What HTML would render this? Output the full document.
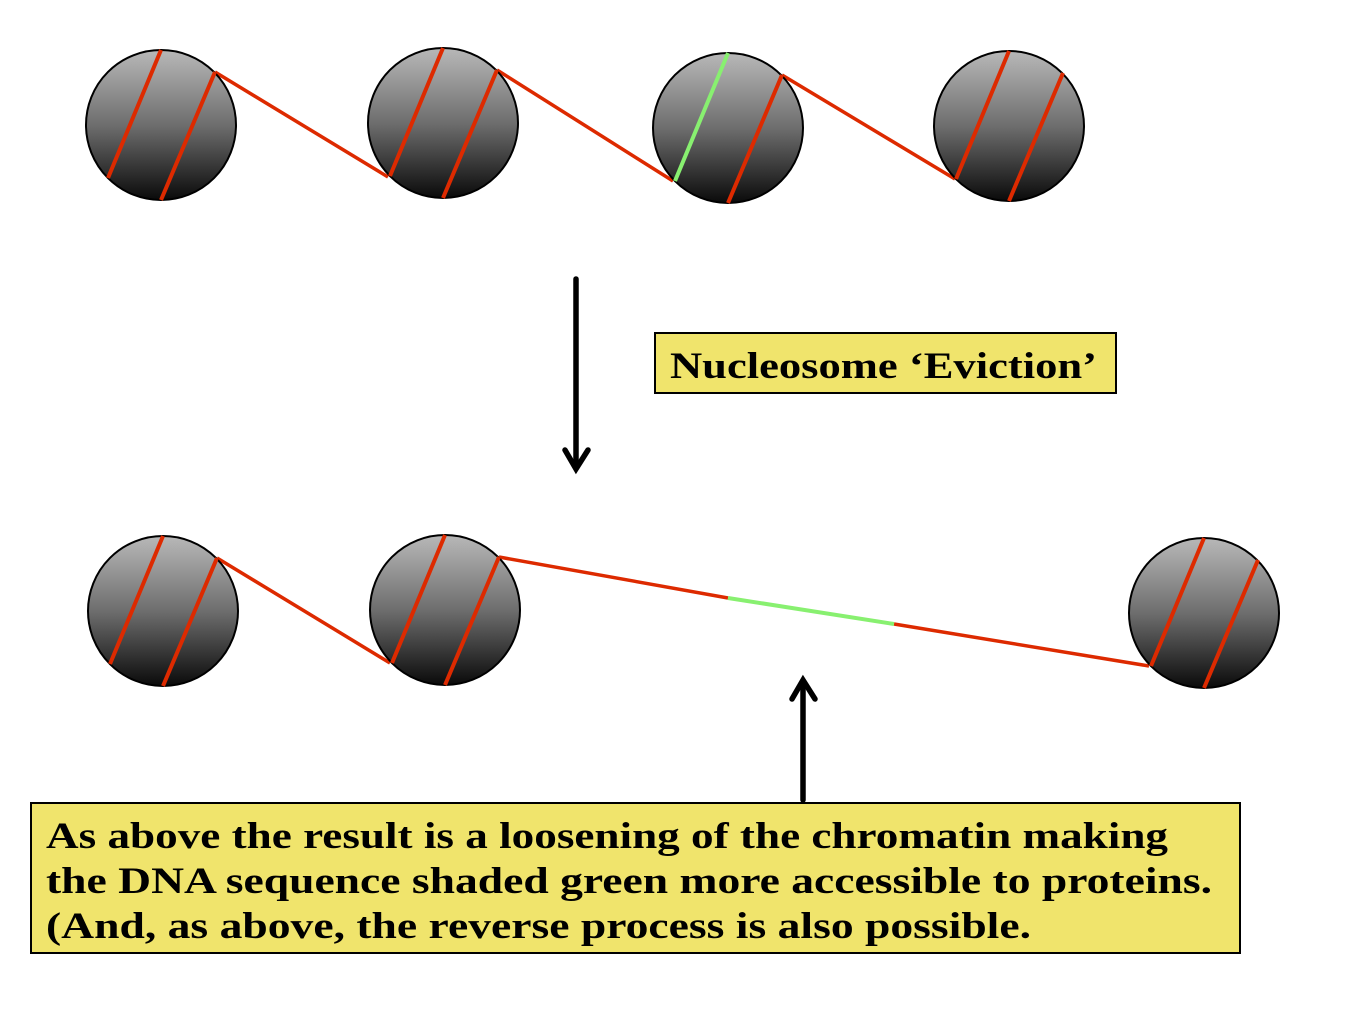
<!DOCTYPE html>
<html><head><meta charset="utf-8"><style>html,body{margin:0;padding:0;background:#fff;}svg{display:block}</style></head>
<body>
<svg width="1354" height="1027" viewBox="0 0 1354 1027" xmlns="http://www.w3.org/2000/svg">
<defs>
<linearGradient id="g" x1="0" y1="0" x2="0" y2="1">
<stop offset="0" stop-color="#b8b8b8"/><stop offset="0.5" stop-color="#6e6e6e"/><stop offset="1" stop-color="#0a0a0a"/>
</linearGradient>
<g id="nuc">
<circle r="75" fill="url(#g)" stroke="#000" stroke-width="2"/>
<line x1="0" y1="-75" x2="-53" y2="53" stroke="#dd2a00" stroke-width="4"/>
<line x1="54" y1="-53" x2="0" y2="75" stroke="#dd2a00" stroke-width="4"/>
</g>
</defs>
<g stroke="#dd2a00" stroke-width="3.5" fill="none">
<line x1="215" y1="72" x2="388" y2="177"/>
<line x1="497" y1="70" x2="673" y2="181"/>
<line x1="782" y1="75" x2="955" y2="179"/>
<line x1="217" y1="558" x2="390" y2="663"/>
<line x1="499" y1="557" x2="728" y2="598"/>
<line x1="894" y1="624" x2="1149" y2="666"/>
</g>
<line x1="728" y1="598" x2="894" y2="624" stroke="#88f070" stroke-width="4"/>
<use href="#nuc" x="161" y="125"/>
<use href="#nuc" x="443" y="123"/>
<g transform="translate(728,128)">
<circle r="75" fill="url(#g)" stroke="#000" stroke-width="2"/>
<line x1="0" y1="-75" x2="-53" y2="53" stroke="#88f070" stroke-width="4"/>
<line x1="54" y1="-53" x2="0" y2="75" stroke="#dd2a00" stroke-width="4"/>
</g>
<use href="#nuc" x="1009" y="126"/>
<use href="#nuc" x="163" y="611"/>
<use href="#nuc" x="445" y="610"/>
<use href="#nuc" x="1204" y="613"/>
<g stroke="#000" stroke-width="5.5" fill="none" stroke-linecap="round">
<line x1="576" y1="279" x2="576" y2="468"/>
<polyline points="565,450 576,469 588,450"/>
<line x1="803" y1="800" x2="803" y2="682"/>
<polyline points="792,699 803,680 815,699"/>
</g>
<rect x="655" y="333" width="461" height="60" fill="#f0e46c" stroke="#000" stroke-width="2"/>
<text x="670" y="378" font-family="Liberation Serif, serif" font-weight="bold" font-size="37" textLength="427" lengthAdjust="spacingAndGlyphs">Nucleosome ‘Eviction’</text>
<rect x="31" y="803" width="1209" height="150" fill="#f0e46c" stroke="#000" stroke-width="2"/>
<g font-family="Liberation Serif, serif" font-weight="bold" font-size="37">
<text x="46" y="848" textLength="1122" lengthAdjust="spacingAndGlyphs">As above the result is a loosening of the chromatin making</text>
<text x="46" y="893" textLength="1166" lengthAdjust="spacingAndGlyphs">the DNA sequence shaded green more accessible to proteins.</text>
<text x="46" y="938" textLength="985" lengthAdjust="spacingAndGlyphs">(And, as above, the reverse process is also possible.</text>
</g>
</svg>
</body></html>
